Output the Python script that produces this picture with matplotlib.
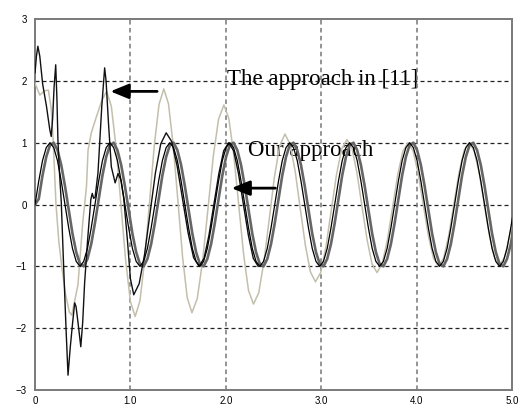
import matplotlib
matplotlib.use("Agg")
import matplotlib.pyplot as plt
import numpy as np

# time grid for the two steady sinusoids (1/16 of a period per step)
t_grid = np.arange(129) * 0.03927

# reference signal
ref_y = [
    0, .38, .71, .92, 1, .92, .71, .38, 0, -.38, -.71, -.92, -1, -.92, -.71, -.38,
    0, .38, .71, .92, 1, .92, .71, .38, 0, -.38, -.71, -.92, -1, -.92, -.71, -.38,
    0, .38, .71, .92, 1, .92, .71, .38, 0, -.38, -.71, -.92, -1, -.92, -.71, -.38,
    0, .38, .71, .92, 1, .92, .71, .38, 0, -.38, -.71, -.92, -1, -.92, -.71, -.38,
    0, .38, .71, .92, 1, .92, .71, .38, 0, -.38, -.71, -.92, -1, -.92, -.71, -.38,
    0, .38, .71, .92, 1, .92, .71, .38, 0, -.38, -.71, -.92, -1, -.92, -.71, -.38,
    0, .38, .71, .92, 1, .92, .71, .38, 0, -.38, -.71, -.92, -1, -.92, -.71, -.38,
    0, .38, .71, .92, 1, .92, .71, .38, 0, -.38, -.71, -.92, -1, -.92, -.71, -.38,
    0,
]

# our approach (slightly lagging the reference)
ours_y = [
    0, .09, .47, .77, .96, 1.0, .88, .64, .30, -.09, -.47, -.77, -.96, -1.0, -.88, -.64,
    -.30, .09, .47, .77, .96, 1.0, .88, .64, .30, -.09, -.47, -.77, -.96, -1.0, -.88, -.64,
    -.30, .09, .47, .77, .96, 1.0, .88, .64, .30, -.09, -.47, -.77, -.96, -1.0, -.88, -.64,
    -.30, .09, .47, .77, .96, 1.0, .88, .64, .30, -.09, -.47, -.77, -.96, -1.0, -.88, -.64,
    -.30, .09, .47, .77, .96, 1.0, .88, .64, .30, -.09, -.47, -.77, -.96, -1.0, -.88, -.64,
    -.30, .09, .47, .77, .96, 1.0, .88, .64, .30, -.09, -.47, -.77, -.96, -1.0, -.88, -.64,
    -.30, .09, .47, .77, .96, 1.0, .88, .64, .30, -.09, -.47, -.77, -.96, -1.0, -.88, -.64,
    -.30, .09, .47, .77, .96, 1.0, .88, .64, .30, -.09, -.47, -.77, -.96, -1.0, -.88, -.64,
    -.30,
]

# the approach in [11] (light curve)
ref11_t = [0, .05, .10, .14, .17, .19, .22, .25, .28, .32, .36, .385,
           .45, .50, .54, .556, .59, .65, .70, .75,
           .80, .85, .90, .95, 1.00, 1.05,
           1.10, 1.15, 1.20, 1.25, 1.30, 1.35,
           1.399, 1.448, 1.498, 1.547, 1.596, 1.645,
           1.701, 1.757, 1.813, 1.868, 1.924, 1.98,
           2.032, 2.083, 2.135, 2.187, 2.238, 2.29,
           2.345, 2.40, 2.455, 2.51, 2.565, 2.62,
           2.673, 2.727, 2.78, 2.833, 2.887, 2.94,
           2.995, 3.05, 3.105, 3.16, 3.215, 3.27,
           3.3225, 3.375, 3.4275, 3.48, 3.5325, 3.585,
           3.639, 3.693, 3.748, 3.802, 3.856, 3.91,
           3.963, 4.017, 4.07, 4.123, 4.177, 4.23,
           4.283, 4.337, 4.39, 4.443, 4.497, 4.55,
           4.603, 4.657, 4.71, 4.763, 4.817, 4.87,
           4.923, 4.977, 5.0]
ref11_y = [1.96, 1.77, 1.84, 1.85, 1.55, 1.05, 0.0, -0.6, -1.0, -1.45, -1.74, -1.79,
           -1.3, -0.3, 0.3, 0.88, 1.16, 1.45, 1.68, 1.83,
           1.59, 0.92, 0.01, -0.90, -1.57, -1.81,
           -1.56, -0.89, 0.03, 0.95, 1.62, 1.87,
           1.63, 0.97, 0.06, -0.85, -1.51, -1.75,
           -1.52, -0.91, -0.07, 0.77, 1.38, 1.61,
           1.39, 0.81, 0.0, -0.81, -1.39, -1.61,
           -1.43, -0.92, -0.24, 0.45, 0.95, 1.14,
           0.98, 0.54, -0.06, -0.65, -1.09, -1.25,
           -1.10, -0.68, -0.10, 0.48, 0.90, 1.05,
           0.91, 0.51, -0.03, -0.56, -0.96, -1.10,
           -0.96, -0.58, -0.05, 0.48, 0.86, 1.0,
           0.87, 0.5, 0.0, -0.5, -0.87, -1.0,
           -0.87, -0.5, 0.0, 0.5, 0.87, 1.0,
           0.87, 0.5, 0.0, -0.5, -0.86, -0.98,
           -0.85, -0.49, -0.3]

# dark transient curve with spikes
spike_t = [0, .015, .03, .05, .08, .12, .155, .17, .185, .20, .217, .23, .24, .255, .275,
           .30, .325, .346, .37, .395, .416, .43, .45, .48, .50, .52, .55, .585, .60, .615,
           .63, .66, .70, .73, .745, .77, .80, .84, .87, .90, .93, .97, 1.00, 1.035,
           1.092, 1.148, 1.205, 1.262, 1.318, 1.375,
           1.4325, 1.49, 1.5475, 1.605, 1.6625, 1.72,
           1.772, 1.823, 1.875, 1.927, 1.978, 2.03,
           2.082, 2.133, 2.185, 2.237, 2.288, 2.34]
spike_y = [2.13, 2.4, 2.56, 2.4, 1.95, 1.59, 1.21, 1.1, 1.4, 1.9, 2.26, 1.7, 1.05, 0.55, 0.05,
           -1.0, -2.0, -2.76, -2.3, -1.9, -1.59, -1.65, -1.9, -2.3, -1.9, -1.27, -0.6, 0.08, 0.18, 0.1,
           0.12, 0.51, 1.59, 2.21, 2.0, 1.32, 0.61, 0.35, 0.5, 0.4, 0.1, -0.6, -1.2, -1.46,
           -1.28, -0.81, -0.15, 0.51, 0.98, 1.16,
           1.02, 0.62, 0.08, -0.46, -0.86, -1.0,
           -0.87, -0.5, 0.0, 0.5, 0.87, 1.0,
           0.87, 0.5, 0.0, -0.5, -0.87, -1.0]

x_ticks = [0, 1, 2, 3, 4, 5]
x_labels = ["0", "1.0", "2.0", "3.0", "4.0", "5.0"]
y_ticks = [-3, -2, -1, 0, 1, 2, 3]

fig = plt.figure(figsize=(5.21, 4.05), dpi=100)
ax = fig.add_axes([0.0672, 0.037, 0.9155, 0.916])

ax.plot(ref11_t, ref11_y, color="#c3bfac", lw=1.1, zorder=3)
ax.plot(t_grid, ours_y, color="#666666", lw=1.9, zorder=4)
ax.plot(spike_t, spike_y, color="#111111", lw=1.0, zorder=5)
ax.plot(t_grid, ref_y, color="#000000", lw=0.9, zorder=6)

# grid
for yv in [-2, -1, 0, 1, 2]:
    ax.axhline(yv, color="#222222", lw=0.9, ls=(0, (3.2, 2.4)), zorder=2)
for xv in [1, 2, 3, 4]:
    ax.axvline(xv, color="#777777", lw=1.1, ls=(0, (3.0, 2.2)), zorder=2)

ax.set_xlim(0, 5)
ax.set_ylim(-3, 3)
ax.set_xticks(x_ticks)
ax.set_xticklabels(x_labels)
ax.set_yticks(y_ticks)
ax.tick_params(length=0, labelsize=7, pad=6)
ax.tick_params(axis="x", pad=4)
for lab in ax.get_xticklabels() + ax.get_yticklabels():
    lab.set_fontfamily("Liberation Sans")
for sp in ax.spines.values():
    sp.set_color("#7a7a7a")
    sp.set_linewidth(1.4)

ax.text(2.01, 1.93, "The approach in [11]", family="Liberation Serif",
        fontsize=16.5, va="baseline", ha="left", zorder=1)
ax.text(2.235, 0.78, "Our approach", family="Liberation Serif",
        fontsize=16.5, va="baseline", ha="left", zorder=1)

arrow_style = "-|>,head_length=1.1,head_width=0.45"
ax.annotate("", xy=(0.79, 1.83), xytext=(1.28, 1.83),
            arrowprops=dict(arrowstyle=arrow_style, color="black", lw=2,
                            mutation_scale=10, shrinkA=0, shrinkB=0), zorder=7)
ax.annotate("", xy=(2.06, 0.265), xytext=(2.52, 0.265),
            arrowprops=dict(arrowstyle=arrow_style, color="black", lw=2,
                            mutation_scale=10, shrinkA=0, shrinkB=0), zorder=7)

fig.savefig("out.png", dpi=100)
